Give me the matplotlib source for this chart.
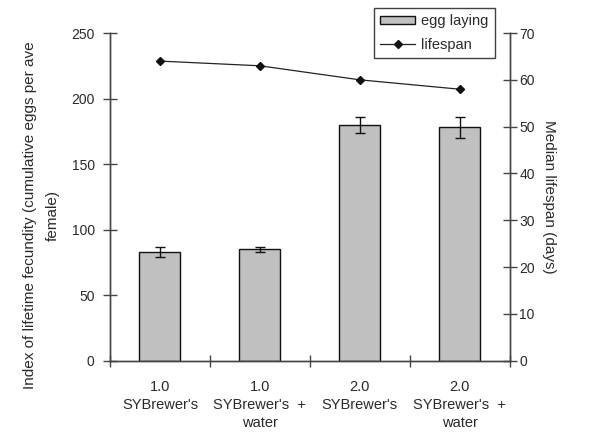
import matplotlib.pyplot as plt
import numpy as np

# Values
categories = ["1.0\nSYBrewer's", "1.0\nSYBrewer's  +\nwater",
              "2.0\nSYBrewer's", "2.0\nSYBrewer's  +\nwater"]
egg_laying = [83, 85, 180, 178]
egg_err = [4, 2, 6, 8]
lifespan = [64, 63, 60, 58]

plt.rcParams["font.family"] = ["Liberation Sans", "DejaVu Sans"]
plt.rcParams["font.size"] = 11
text_col = "#2a2a2a"
axis_col = "#444444"

fig = plt.figure(figsize=(6.01, 4.46), dpi=100)
ax = fig.add_axes([0.183, 0.191, 0.665, 0.735])
ax2 = ax.twinx()

x = np.arange(len(categories))
bars = ax.bar(x, egg_laying, width=0.41, color="#c0c0c0", edgecolor="#111111",
              linewidth=1.0, label="egg laying", zorder=2)
ax.errorbar(x, egg_laying, yerr=egg_err, fmt="none", ecolor="#111111",
            elinewidth=1.0, capsize=3.5, capthick=1.0, zorder=3)
line, = ax2.plot(x, lifespan, color="#222222", linewidth=0.9, marker="D",
                 markersize=4.5, markerfacecolor="#111111",
                 markeredgecolor="#111111", label="lifespan")

ax.set_xlim(-0.5, 3.5)
ax.set_ylim(0, 250)
ax2.set_ylim(0, 70)
ax.set_yticks(np.arange(0, 251, 50))
ax2.set_yticks(np.arange(0, 71, 10))

# category separators as x ticks, labels at centres
ax.set_xticks(np.arange(-0.5, 3.6, 1.0))
ax.set_xticklabels([])
ax.set_xticks(x, minor=True)
ax.set_xticklabels(categories, minor=True, color=text_col, linespacing=1.35,
                   fontsize=10.5)
ax.tick_params(axis="x", which="minor", length=0, pad=14)
ax.tick_params(axis="x", which="major", direction="inout", length=9,
               color=axis_col, width=1.0)

ax.tick_params(axis="y", direction="inout", length=10, color=axis_col,
               width=1.0, labelcolor=text_col, labelsize=10, pad=6)
ax2.tick_params(axis="y", direction="inout", length=10, color=axis_col,
                width=1.0, labelcolor=text_col, labelsize=10, pad=2)

for a in (ax, ax2):
    a.spines["top"].set_visible(False)
    for s in ("left", "right", "bottom"):
        a.spines[s].set_color(axis_col)
        a.spines[s].set_linewidth(1.0)

ax.set_ylabel("Index of lifetime fecundity (cumulative eggs per ave\nfemale)",
              color=text_col, linespacing=1.8)
ax.yaxis.set_label_coords(-0.125, 0.444)
ax2.set_ylabel("Median lifespan (days)", rotation=-90, color=text_col,
               labelpad=15)

leg = fig.legend([bars, line], ["egg laying", "lifespan"], loc="upper right",
                 bbox_to_anchor=(0.824, 0.983), frameon=True, fancybox=False,
                 fontsize=10.5, handlelength=2.4, handleheight=0.5,
                 borderpad=0.45, labelspacing=0.65, handletextpad=0.4,
                 borderaxespad=0.0)
leg.get_frame().set_edgecolor("#111111")
leg.get_frame().set_linewidth(1.0)
for t in leg.get_texts():
    t.set_color(text_col)

fig.savefig("out.png", dpi=100)
